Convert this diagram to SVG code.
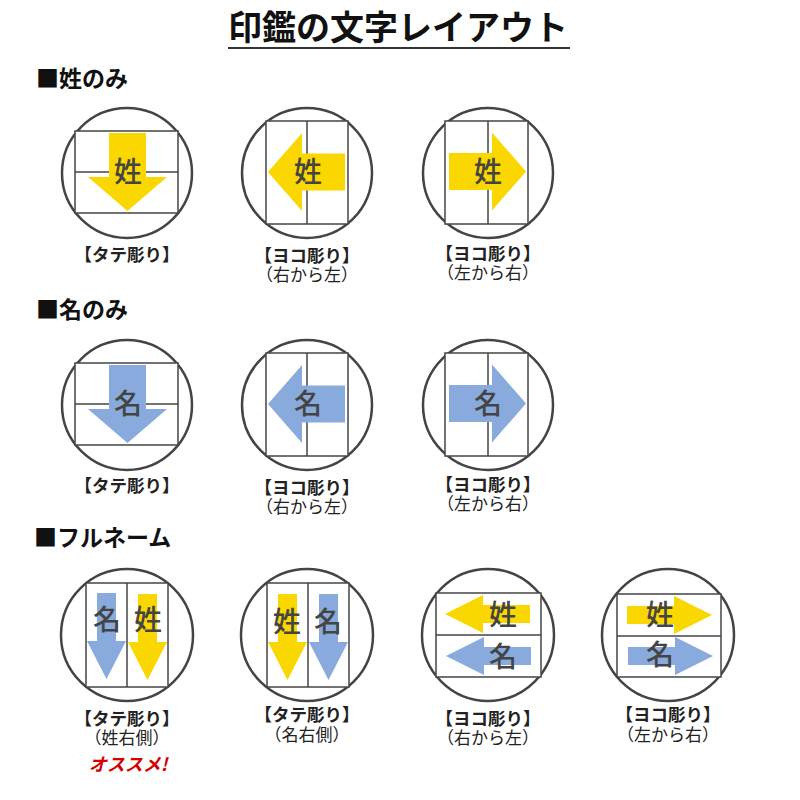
<svg xmlns="http://www.w3.org/2000/svg" width="800" height="800" viewBox="0 0 800 800">
<style>
text{font-family:"Noto Sans CJK JP","Noto Sans",sans-serif}
.title{font-size:34px;font-weight:bold;fill:#111;text-anchor:middle}
.hdr{font-size:23px;font-weight:bold;fill:#111}
.lbl{font-size:17.5px;font-weight:bold;fill:#222;text-anchor:middle}
.sub{font-size:17px;fill:#222;text-anchor:middle}
.rec{font-size:18px;font-weight:bold;font-style:italic;fill:#d40000;text-anchor:middle}
.ch{font-size:28px;font-weight:500;fill:#444;text-anchor:middle}
.ring{fill:#fff;stroke:#444;stroke-width:2.5}
.box{fill:#fff;stroke:#444;stroke-width:1.5}
.ln{stroke:#444;stroke-width:1.5}
.y{fill:#FAD700}
.b{fill:#88AADC}
</style>
<defs>
<path id="aDown" d="M-18.5,-39 H18.5 V5 H39.5 L0,39 L-39.5,5 H-18.5 Z"/>
<path id="aLeft" d="M38,-18.5 V18.5 H-5 V39 L-39,0 L-5,-39 V-18.5 Z"/>
<path id="aRight" d="M-39,-18.5 H4 V-39 L38,0 L4,39 V18.5 H-39 Z"/>
<path id="nDown" d="M-9.5,0 H9.5 V48 H19.5 L0,86 L-19.5,48 H-9.5 Z"/>
<path id="nLeft" d="M0,0 L38,-19 V-9 H85 V9 H38 V19 Z"/>
<path id="nRight" d="M0,0 L-38,-19 V-9 H-85 V9 H-38 V19 Z"/>
</defs>
<rect width="800" height="800" fill="#fff"/>

<g id="title">
<text class="title" x="398" y="40">印鑑の文字レイアウト</text>
<line x1="228" y1="48" x2="570" y2="48" stroke="#333" stroke-width="2"/>
</g>

<text class="hdr" x="36" y="87">■姓のみ</text>
<text class="hdr" x="36" y="318">■名のみ</text>
<text class="hdr" x="34" y="546">■フルネーム</text>

<!-- Row 1 -->
<g id="r1c1">
<circle class="ring" cx="127" cy="173" r="65"/>
<rect class="box" x="75" y="131" width="103" height="82"/>
<line class="ln" x1="75" y1="172" x2="178" y2="172"/>
<use href="#aDown" class="y" x="127.5" y="172"/>
<text class="ch" x="128" y="182">姓</text>
<text class="lbl" x="127" y="261">【タテ彫り】</text>
</g>
<g id="r1c2">
<circle class="ring" cx="307" cy="173" r="65"/>
<rect class="box" x="266" y="121" width="82" height="103"/>
<line class="ln" x1="307" y1="121" x2="307" y2="224"/>
<use href="#aLeft" class="y" x="307" y="172"/>
<text class="ch" x="308" y="182">姓</text>
<text class="lbl" x="307" y="262">【ヨコ彫り】</text>
<text class="sub" x="307" y="281">（右から左）</text>
</g>
<g id="r1c3">
<circle class="ring" cx="488" cy="173" r="65"/>
<rect class="box" x="445" y="121" width="83" height="103"/>
<line class="ln" x1="488" y1="121" x2="488" y2="224"/>
<use href="#aRight" class="y" x="488" y="171.5"/>
<text class="ch" x="488" y="182">姓</text>
<text class="lbl" x="488" y="260">【ヨコ彫り】</text>
<text class="sub" x="488" y="279">（左から右）</text>
</g>

<!-- Row 2 -->
<g id="r2c1">
<circle class="ring" cx="127" cy="405" r="65"/>
<rect class="box" x="75" y="363" width="103" height="82"/>
<line class="ln" x1="75" y1="404" x2="178" y2="404"/>
<use href="#aDown" class="b" x="127.5" y="404"/>
<text class="ch" x="128" y="414">名</text>
<text class="lbl" x="127" y="492">【タテ彫り】</text>
</g>
<g id="r2c2">
<circle class="ring" cx="307" cy="405" r="65"/>
<rect class="box" x="266" y="353" width="82" height="103"/>
<line class="ln" x1="307" y1="353" x2="307" y2="456"/>
<use href="#aLeft" class="b" x="307" y="404"/>
<text class="ch" x="308" y="414">名</text>
<text class="lbl" x="307" y="494">【ヨコ彫り】</text>
<text class="sub" x="307" y="513">（右から左）</text>
</g>
<g id="r2c3">
<circle class="ring" cx="488" cy="405" r="65"/>
<rect class="box" x="445" y="353" width="83" height="103"/>
<line class="ln" x1="488" y1="353" x2="488" y2="456"/>
<use href="#aRight" class="b" x="488" y="403.5"/>
<text class="ch" x="488" y="414">名</text>
<text class="lbl" x="488" y="491">【ヨコ彫り】</text>
<text class="sub" x="488" y="510">（左から右）</text>
</g>

<!-- Row 3 -->
<g id="r3c1">
<circle class="ring" cx="127" cy="635" r="66"/>
<rect class="box" x="86" y="583" width="82" height="104"/>
<line class="ln" x1="127" y1="583" x2="127" y2="687"/>
<use href="#nDown" class="b" x="106.5" y="593"/>
<use href="#nDown" class="y" x="147.5" y="594"/>
<text class="ch" x="107" y="630">名</text>
<text class="ch" x="148" y="630">姓</text>
<text class="lbl" x="127" y="725">【タテ彫り】</text>
<text class="sub" x="127" y="744">（姓右側）</text>
<text class="rec" x="128" y="771">オススメ!</text>
</g>
<g id="r3c2">
<circle class="ring" cx="307" cy="635" r="66"/>
<rect class="box" x="267" y="583" width="82" height="104"/>
<line class="ln" x1="308" y1="583" x2="308" y2="687"/>
<use href="#nDown" class="y" x="287.5" y="594"/>
<use href="#nDown" class="b" x="328.5" y="594"/>
<text class="ch" x="287" y="632">姓</text>
<text class="ch" x="328" y="632">名</text>
<text class="lbl" x="307" y="721">【タテ彫り】</text>
<text class="sub" x="307" y="741">（名右側）</text>
</g>
<g id="r3c3">
<circle class="ring" cx="488" cy="635" r="66"/>
<rect class="box" x="436" y="593" width="105" height="84"/>
<line class="ln" x1="436" y1="635" x2="541" y2="635"/>
<use href="#nLeft" class="y" x="445" y="614"/>
<use href="#nLeft" class="b" x="446" y="656"/>
<text class="ch" x="503" y="625">姓</text>
<text class="ch" x="503" y="667">名</text>
<text class="lbl" x="488" y="725">【ヨコ彫り】</text>
<text class="sub" x="488" y="744">（右から左）</text>
</g>
<g id="r3c4">
<circle class="ring" cx="668" cy="635" r="66"/>
<rect class="box" x="617" y="594" width="104" height="83"/>
<line class="ln" x1="617" y1="636" x2="721" y2="636"/>
<use href="#nRight" class="y" x="712" y="615"/>
<use href="#nRight" class="b" x="713" y="656"/>
<text class="ch" x="660" y="625">姓</text>
<text class="ch" x="660" y="665">名</text>
<text class="lbl" x="668" y="721">【ヨコ彫り】</text>
<text class="sub" x="668" y="741">（左から右）</text>
</g>
</svg>
